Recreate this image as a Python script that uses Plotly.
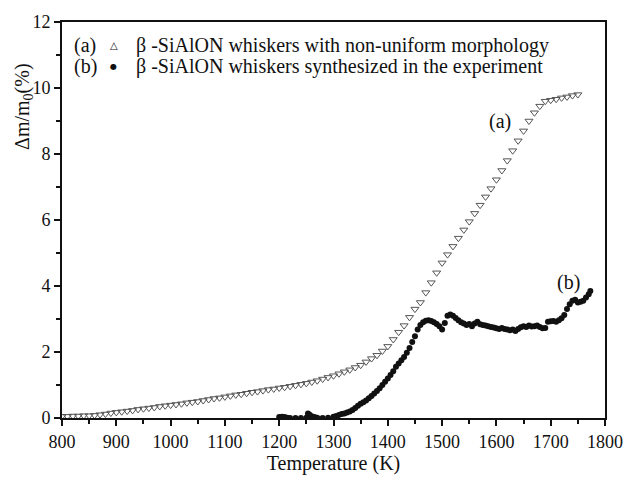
import plotly.graph_objects as go

# Series (a): beta-SiAlON whiskers with non-uniform morphology
temp_a = [800, 810, 820, 830, 840, 850, 860, 870, 880, 890,
          900, 910, 920, 930, 940, 950, 960, 970, 980, 990,
          1000, 1010, 1020, 1030, 1040, 1050, 1060, 1070, 1080, 1090,
          1100, 1110, 1120, 1130, 1140, 1150, 1160, 1170, 1180, 1190,
          1200, 1210, 1220, 1230, 1240, 1250, 1260, 1270, 1280, 1290,
          1300, 1310, 1320, 1330, 1340, 1350, 1360, 1370, 1380, 1390,
          1400, 1410, 1420, 1430, 1440, 1450, 1460, 1470, 1480, 1490,
          1500, 1510, 1520, 1530, 1540, 1550, 1560, 1570, 1580, 1590,
          1600, 1610, 1620, 1630, 1640, 1650, 1660, 1670, 1680, 1690,
          1700, 1710, 1720, 1730, 1740, 1750]
mass_a = [0.05, 0.05, 0.06, 0.06, 0.07, 0.07, 0.08, 0.10, 0.12, 0.15,
          0.17, 0.19, 0.21, 0.23, 0.26, 0.28, 0.30, 0.32, 0.35, 0.37,
          0.39, 0.41, 0.43, 0.46, 0.48, 0.50, 0.53, 0.56, 0.59, 0.61,
          0.64, 0.67, 0.70, 0.72, 0.75, 0.78, 0.80, 0.83, 0.86, 0.88,
          0.91, 0.93, 0.96, 0.99, 1.02, 1.05, 1.09, 1.13, 1.18, 1.23,
          1.28, 1.34, 1.40, 1.46, 1.53, 1.60, 1.70, 1.80, 1.90, 2.03,
          2.17, 2.38, 2.60, 2.80, 3.05, 3.30, 3.50, 3.80, 4.10, 4.40,
          4.70, 4.95, 5.20, 5.45, 5.70, 5.95, 6.20, 6.45, 6.70, 6.95,
          7.22, 7.50, 7.80, 8.10, 8.40, 8.70, 9.00, 9.25, 9.45, 9.60,
          9.63, 9.66, 9.70, 9.73, 9.77, 9.80]

# Series (b): beta-SiAlON whiskers synthesized in the experiment
temp_b = [1200, 1205, 1210, 1215, 1220, 1230, 1240, 1250, 1253, 1256,
          1260, 1265, 1270, 1280, 1290, 1300, 1305, 1310, 1315, 1320,
          1325, 1330, 1335, 1340, 1345, 1350, 1355, 1360, 1365, 1370,
          1375, 1380, 1385, 1390, 1395, 1400, 1405, 1410, 1415, 1420,
          1425, 1430, 1435, 1440, 1445, 1450, 1455, 1460, 1465, 1470,
          1475, 1480, 1485, 1490, 1495, 1500, 1505, 1510, 1515, 1520,
          1525, 1530, 1535, 1540, 1545, 1550, 1555, 1560, 1565, 1570,
          1575, 1580, 1585, 1590, 1595, 1600, 1605, 1610, 1615, 1620,
          1625, 1630, 1635, 1640, 1645, 1650, 1655, 1660, 1665, 1670,
          1675, 1680, 1685, 1690, 1695, 1700, 1705, 1710, 1715, 1720,
          1725, 1730, 1735, 1740, 1745, 1750, 1755, 1760, 1765, 1770,
          1773]
mass_b = [0.03, 0.04, 0.03, 0.01, 0.00, 0.00, 0.00, 0.01, 0.14, 0.10,
          0.05, 0.03, 0.01, 0.00, 0.01, 0.04, 0.06, 0.09, 0.12, 0.14,
          0.17, 0.20, 0.24, 0.30, 0.37, 0.43, 0.48, 0.53, 0.60, 0.67,
          0.74, 0.82, 0.90, 1.00, 1.10, 1.20, 1.30, 1.42, 1.55, 1.65,
          1.75, 1.85, 1.98, 2.12, 2.30, 2.48, 2.68, 2.82, 2.90, 2.95,
          2.96, 2.94, 2.90, 2.85, 2.78, 2.68, 2.88, 3.10, 3.14, 3.10,
          3.03, 2.96, 2.90, 2.86, 2.82, 2.85, 2.78, 2.86, 2.92, 2.84,
          2.82, 2.80, 2.78, 2.76, 2.74, 2.72, 2.70, 2.73, 2.70, 2.68,
          2.66, 2.68, 2.64, 2.70, 2.75, 2.78, 2.76, 2.80, 2.77, 2.78,
          2.80, 2.76, 2.72, 2.73, 2.92, 2.93, 2.94, 2.92, 2.96, 3.02,
          3.12, 3.30, 3.45, 3.55, 3.58, 3.50, 3.52, 3.55, 3.65, 3.75,
          3.85]

x_ticks = [800, 900, 1000, 1100, 1200, 1300, 1400, 1500, 1600, 1700, 1800]
y_ticks = [0, 2, 4, 6, 8, 10, 12]

FONT = "Liberation Serif, Times New Roman, serif"

fig = go.Figure()
fig.add_trace(go.Scatter(
    x=temp_a, y=mass_a, mode="markers",
    marker=dict(symbol="triangle-down-open", size=7, color="#555555",
                line=dict(width=1, color="#555555")),
    showlegend=False))
fig.add_trace(go.Scatter(
    x=temp_b, y=mass_b, mode="markers",
    marker=dict(symbol="circle", size=6, color="#111111"),
    showlegend=False))

W, H = 635, 482
L, R, T, B = 62, 18, 21, 56
pw, ph = W - L - R, H - T - B


def px(x):
    return (x - L) / pw


def py(y):
    return (H - B - y) / ph


annos = []
leg = [("(a)", "△", "β -SiAlON whiskers with non-uniform morphology", 45),
       ("(b)", "●", "β -SiAlON whiskers synthesized in the experiment", 67)]
for lab, sym, txt, yy in leg:
    annos.append(dict(x=px(72), y=py(yy), xref="paper", yref="paper", text=lab,
                      showarrow=False, xanchor="left", yanchor="middle",
                      font=dict(family=FONT, size=20, color="#111")))
    annos.append(dict(x=px(115), y=py(yy), xref="paper", yref="paper", text=sym,
                      showarrow=False, xanchor="center", yanchor="middle",
                      font=dict(family="DejaVu Sans", size=8 if sym == "●" else 10,
                                color="#111")))
    annos.append(dict(x=px(136), y=py(yy), xref="paper", yref="paper", text=txt,
                      showarrow=False, xanchor="left", yanchor="middle",
                      font=dict(family=FONT, size=20, color="#111")))

annos.append(dict(x=1607, y=9.0, xref="x", yref="y", text="(a)", showarrow=False,
                  font=dict(family=FONT, size=20, color="#111")))
annos.append(dict(x=1733, y=4.12, xref="x", yref="y", text="(b)", showarrow=False,
                  font=dict(family=FONT, size=20, color="#111")))
annos.append(dict(x=px(22), y=py(107), xref="paper", yref="paper",
                  text="Δm/m<sub>0</sub>(%)", textangle=-90, showarrow=False,
                  xanchor="center", yanchor="middle",
                  font=dict(family=FONT, size=20, color="#111")))

axis_common = dict(showgrid=False, zeroline=False, showline=True, linecolor="#111",
                   linewidth=2, mirror=True, ticks="outside", ticklen=6,
                   tickwidth=1.5, tickcolor="#111",
                   tickfont=dict(family=FONT, size=18, color="#111"))

fig.update_layout(
    width=W, height=H, margin=dict(l=L, r=R, t=T, b=B),
    paper_bgcolor="white", plot_bgcolor="white",
    font=dict(family=FONT),
    xaxis=dict(range=[800, 1800], tickvals=x_ticks, ticktext=[str(v) for v in x_ticks],
               minor=dict(dtick=50, ticklen=4, ticks="outside", tickcolor="#111"),
               title=dict(text="Temperature (K)", standoff=4,
                          font=dict(family=FONT, size=20, color="#111")),
               **axis_common),
    yaxis=dict(range=[0, 12], tickvals=y_ticks, ticktext=[str(v) for v in y_ticks],
               minor=dict(dtick=1, ticklen=4, ticks="outside", tickcolor="#111"),
               **axis_common),
    annotations=annos,
)

fig.write_html("out.html")
